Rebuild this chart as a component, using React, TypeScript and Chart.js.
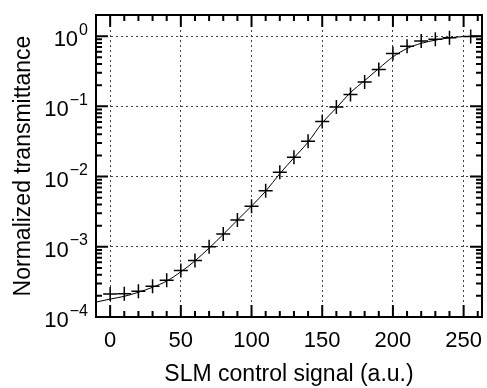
import React, { useEffect, useRef } from 'react';
import { Chart, registerables } from 'chart.js';

Chart.register(...registerables);

// Measured points (crosses)
const markerX = [0, 10, 20, 30, 40, 50, 60, 70, 80, 90, 100, 110, 120, 130, 140, 150, 160, 170, 180, 190, 200, 210, 220, 230, 240, 255];
const markerY = [2.13e-4, 2.15e-4, 2.32e-4, 2.74e-4, 3.34e-4, 4.6e-4, 6.4e-4, 1.0e-3, 1.52e-3, 2.41e-3, 3.78e-3, 6.26e-3, 1.15e-2, 1.88e-2, 3.18e-2, 6.08e-2, 9.8e-2, 0.148, 0.222, 0.334, 0.565, 0.72, 0.85, 0.906, 0.946, 0.99];

// Fitted curve
const curveX = [-10, 0, 10, 20, 30, 40, 50, 60, 70, 80, 90, 100, 110, 120, 130, 140, 150, 160, 170, 180, 190, 200, 210, 220, 230, 240, 250, 262];
const curveY = [1.63e-4, 1.8e-4, 1.97e-4, 2.25e-4, 2.65e-4, 3.25e-4, 4.4e-4, 6.3e-4, 9.6e-4, 1.5e-3, 2.4e-3, 3.8e-3, 6.2e-3, 1.1e-2, 1.85e-2, 3.1e-2, 5.8e-2, 9.5e-2, 0.157, 0.233, 0.346, 0.506, 0.667, 0.79, 0.877, 0.946, 0.985, 1.0];

// Axes
const xMajorTicks = [0, 50, 100, 150, 200, 250];
const xTickLabels = ['0', '50', '100', '150', '200', '250'];
const xMinorTicks = [10, 20, 30, 40, 60, 70, 80, 90, 110, 120, 130, 140, 160, 170, 180, 190, 210, 220, 230, 240, 260];
const yMajorTicks = [1e-4, 1e-3, 1e-2, 1e-1, 1];
const yExponents = ['\u22124', '\u22123', '\u22122', '\u22121', '0'];
const yMinorMantissas = [2, 3, 4, 5, 6, 7, 8, 9];

const X_MIN = -10;
const X_MAX = 263;
const Y_MIN = 1e-4;
const Y_MAX = 2;
const FONT = '"Liberation Sans", Arial, Helvetica, sans-serif';

const framePlugin = {
  id: 'frame',
  afterDraw(chart: any) {
    const { ctx, chartArea } = chart;
    const { left, right, top, bottom } = chartArea;
    const xs = chart.scales.x;
    const ys = chart.scales.y;
    const MAJ = 12;
    const MIN = 6;
    ctx.save();
    ctx.strokeStyle = '#000';
    ctx.lineWidth = 2;
    ctx.setLineDash([]);
    ctx.beginPath();
    const xt = (v: number, len: number) => {
      const p = xs.getPixelForValue(v);
      ctx.moveTo(p, bottom);
      ctx.lineTo(p, bottom - len);
      ctx.moveTo(p, top);
      ctx.lineTo(p, top + len);
    };
    xMajorTicks.forEach((v) => xt(v, MAJ));
    xMinorTicks.forEach((v) => xt(v, MIN));
    const yt = (v: number, len: number) => {
      const p = ys.getPixelForValue(v);
      ctx.moveTo(left, p);
      ctx.lineTo(left + len, p);
      ctx.moveTo(right, p);
      ctx.lineTo(right - len, p);
    };
    yMajorTicks.forEach((v) => yt(v, MAJ));
    yMajorTicks.forEach((d) => {
      yMinorMantissas.forEach((m) => {
        const v = d * m;
        if (v < Y_MAX) yt(v, MIN);
      });
    });
    ctx.stroke();
    ctx.lineWidth = 2;
    ctx.strokeRect(left, top, right - left, bottom - top);

    ctx.fillStyle = '#000';
    ctx.textBaseline = 'alphabetic';
    yMajorTicks.forEach((v, i) => {
      const p = ys.getPixelForValue(v);
      ctx.font = `16px ${FONT}`;
      const exp = yExponents[i];
      const ew = ctx.measureText(exp).width;
      ctx.textAlign = 'right';
      ctx.fillText(exp, 88, p - 1.5);
      ctx.font = `22px ${FONT}`;
      ctx.fillText('10', 88 - ew - 1, p + 10);
    });
    ctx.restore();
  },
};

export default function App() {
  const canvasRef = useRef<HTMLCanvasElement | null>(null);

  useEffect(() => {
    if (!canvasRef.current) return;
    const chart = new Chart(canvasRef.current, {
      type: 'scatter',
      data: {
        datasets: [
          {
            data: curveX.map((x, i) => ({ x, y: curveY[i] })),
            showLine: true,
            pointRadius: 0,
            borderColor: '#000',
            borderWidth: 1,
            cubicInterpolationMode: 'monotone',
          } as any,
          {
            data: markerX.map((x, i) => ({ x, y: markerY[i] })),
            showLine: false,
            pointStyle: 'cross',
            pointRadius: 7,
            pointBorderWidth: 1.5,
            borderColor: '#000',
            backgroundColor: '#000',
            pointBorderColor: '#000',
          } as any,
        ],
      },
      options: {
        animation: false,
        responsive: false,
        devicePixelRatio: 1,
        layout: { autoPadding: false, padding: { top: 15, right: 5, left: 0, bottom: 0 } },
        plugins: { legend: { display: false }, tooltip: { enabled: false } },
        scales: {
          x: {
            type: 'linear',
            min: X_MIN,
            max: X_MAX,
            afterBuildTicks: (s: any) => {
              s.ticks = xMajorTicks.map((v) => ({ value: v }));
            },
            afterFit: (s: any) => {
              s.height = 71;
              s.paddingLeft = 0;
              s.paddingRight = 0;
            },
            ticks: {
              autoSkip: false,
              maxRotation: 0,
              padding: 11,
              color: '#000',
              font: { family: FONT, size: 22 },
              callback: (_v: any, i: number) => xTickLabels[i],
            },
            grid: { color: '#444', lineWidth: 1, drawTicks: false },
            border: { display: false, dash: [2, 3] },
            title: {
              display: true,
              text: 'SLM control signal (a.u.)',
              color: '#000',
              font: { family: FONT, size: 23 },
              padding: { top: 0, bottom: 0 },
            },
          },
          y: {
            type: 'logarithmic',
            min: Y_MIN,
            max: Y_MAX,
            afterBuildTicks: (s: any) => {
              s.ticks = yMajorTicks.map((v) => ({ value: v }));
            },
            afterFit: (s: any) => {
              s.width = 96;
              s.paddingTop = 0;
              s.paddingBottom = 0;
            },
            ticks: { display: false },
            grid: { color: '#444', lineWidth: 1, drawTicks: false },
            border: { display: false, dash: [2, 3] },
            title: {
              display: true,
              text: 'Normalized transmittance',
              color: '#000',
              font: { family: FONT, size: 23 },
              padding: { top: 10, bottom: 0 },
            },
          },
        },
      } as any,
      plugins: [framePlugin],
    });
    return () => chart.destroy();
  }, []);

  return (
    <div style={{ position: 'absolute', left: 0, top: 0, width: 487, height: 388, background: '#fff' }}>
      <canvas ref={canvasRef} width={487} height={388} />
    </div>
  );
}
